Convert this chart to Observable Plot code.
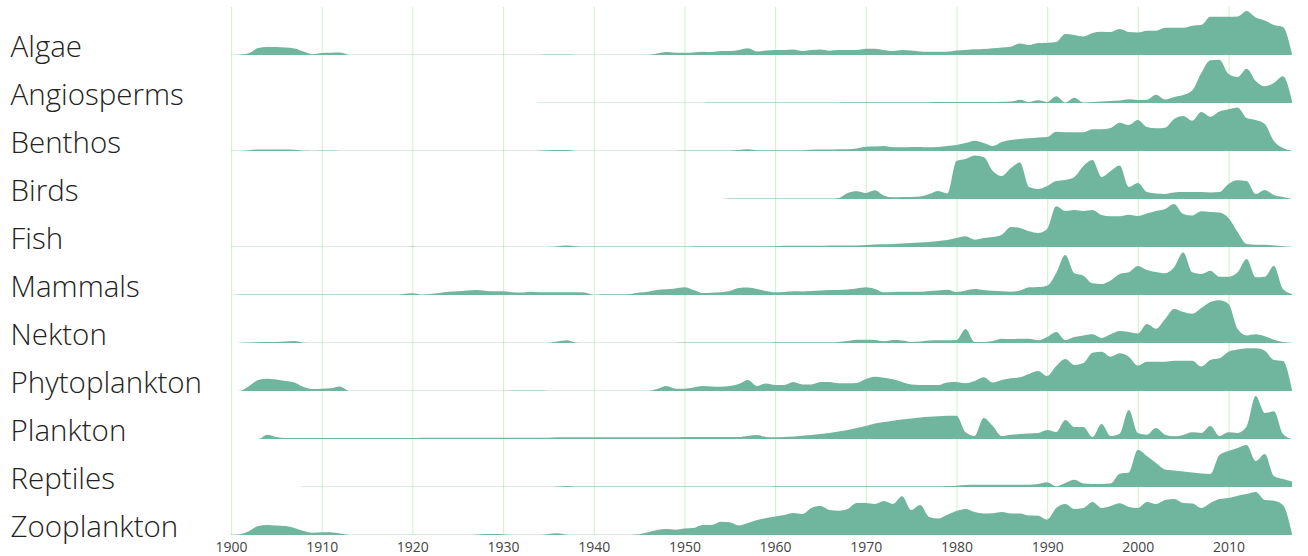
<!DOCTYPE html>
<html><head><meta charset="utf-8">
<script src="https://cdn.jsdelivr.net/npm/d3@7"></script>
<script src="https://cdn.jsdelivr.net/npm/@observablehq/plot@0.6"></script>
<style>body{margin:0;background:#fff}</style>
</head><body><div id="chart"></div>
<script>
const years = d3.range(1900, 2018);
const categories = ["Algae","Angiosperms","Benthos","Birds","Fish","Mammals","Nekton","Phytoplankton","Plankton","Reptiles","Zooplankton"];
const xTicks = [1900,1910,1920,1930,1940,1950,1960,1970,1980,1990,2000,2010];

const algae = [
0.3,0.5,2,7,8,8,7.5,6.5,3.5,0.8,
2,2.3,2.5,0.3,0.3,0.3,0.3,0.3,0.3,0.3,
0.3,0.3,0.3,0.3,0.3,0.3,0.3,0.3,0.3,0.3,
0.3,0.3,0.3,0.3,0.3,0.4,0.6,0.4,0.3,0.3,
0.3,0.3,0.3,0.3,0.3,0.3,0.3,1.5,3,2.3,
2.3,2.5,3.3,3,4,4,5,6.7,3.5,4.5,
5,5,5.5,4,5,5.5,4.3,5,5,5,
6.3,6.3,5,4,5,4.5,3.5,3.3,3.3,3.3,
4.5,5,5.7,6,6.7,7.5,8.3,11.5,10,12,
12.3,13,21,20,18.5,22,23.3,23,26,23,
22.5,24.3,24.3,27.3,27.3,27.3,29.3,30,38.3,38.3,
38.3,38.5,44,37.5,34.5,30,28,1];
const angiosperms = [
null,null,null,null,null,null,null,null,null,null,
null,null,null,null,null,null,null,null,null,null,
null,null,null,null,null,null,null,null,null,null,
null,null,null,null,0.3,0.3,0.3,0.3,0.3,0.3,
0.3,0.3,0.3,0.3,0.3,0.3,0.3,0.3,0.3,0.3,
0.3,0.3,0.3,0.4,0.4,0.4,0.5,0.5,0.5,0.5,
0.5,0.5,0.5,0.5,0.6,0.6,0.6,0.6,0.7,0.7,
0.7,0.7,0.8,0.8,0.8,0.8,0.8,0.8,1,1,
1,1,1,1,1,1.2,1.5,3.3,1,2.7,
1,6.7,0.5,5.3,0.5,1,1.5,2,2.5,3.7,
3,3.3,8.3,3.5,6,8,12.5,30,42.7,43.3,
29,26,34.3,22,16.7,20,26.7,2];
const benthos = [
0.3,0.3,0.8,1.5,1.5,1.5,1.5,1.2,0.4,0.3,
0.5,0.4,0.3,0.3,0.3,0.3,0.3,0.3,0.3,0.3,
0.3,0.3,0.3,0.3,0.3,0.3,0.3,0.3,0.3,0.3,
0.3,0.3,0.3,0.3,0.6,0.8,1,1,0.3,0.3,
0.3,0.3,0.3,0.3,0.3,0.3,0.3,0.3,0.3,0.3,
0.4,0.4,0.4,0.4,0.5,0.5,1,1.7,0.8,0.8,
0.8,0.8,0.8,0.8,1.2,1.5,1.5,1.8,1.8,2.5,
4.3,4.5,5,3.7,3.7,4,4,3.7,4,5,
6,8,10.3,8,5,9,11,12,12.7,13.5,
14,19.3,18.7,18.7,18.7,21.7,21.7,23,28.3,26,
31,24,22.7,23.3,32,35,30.3,39,34.3,39.5,
41.7,43.5,33,31,27,10,3,0.5];
const birds = [
null,null,null,null,null,null,null,null,null,null,
null,null,null,null,null,null,null,null,null,null,
null,null,null,null,null,null,null,null,null,null,
null,null,null,null,null,null,null,null,null,null,
null,null,null,null,null,null,null,null,null,null,
null,null,null,null,null,0.4,0.4,0.4,0.4,0.4,
0.4,0.4,0.4,0.4,0.4,0.4,0.4,1,6,7.7,
6,8.7,3.3,1.7,2,2,2.5,5,8,5.5,
38,40,43.5,42,28,23,31,36.5,12,10,
13,18,19,22,33,39,22,28,33.5,12,
16,7,5.5,5,6.5,7,7,7,6.5,7,
15,18.7,18,5,9,4,2,null];
const fish = [
0.3,0.3,0.3,0.3,0.3,0.3,0.3,0.3,0.3,0.3,
0.3,0.3,0.3,0.3,0.3,0.3,0.3,0.3,0.3,0.3,
0.6,0.3,0.3,0.3,0.3,0.3,0.3,0.3,0.3,0.3,
0.3,0.3,0.3,0.3,0.3,0.3,0.8,1.5,0.8,0.4,
0.4,0.4,0.4,0.4,0.4,0.4,0.4,0.4,0.4,0.4,
0.4,0.8,0.8,0.8,0.8,0.8,0.8,0.8,0.8,0.8,
0.8,1.2,1.2,1.2,1.2,1.2,1.5,1.5,1.5,1.5,
2,2.5,2.7,3,3.5,4,4.5,5,6,7,
9,10.7,7.3,9,10,12.3,20,19,15.7,14,
18,40.7,36,37,36,37,32,30.7,30.7,32.3,
31,33.5,36,38,43,33,31.5,35.7,35,34.5,
29,15,3,2.3,2.3,1.5,0.8,0.3];
const mammals = [
null,0.4,0.4,0.4,0.4,0.4,0.4,0.4,0.4,0.4,
0.4,0.4,0.4,0.4,0.4,0.4,0.4,0.4,0.4,1,
1.7,0.6,1,2,3.3,3.7,4.5,5,4.3,3.7,
3.7,2.7,2.5,3.3,2.8,2.7,2.7,2.7,2.7,2.5,
0.3,0.7,0.7,0.8,1,2.5,3.3,5,5.7,6.5,
7.7,5,2,2.3,2.7,4,7,7.5,6,4,
2.7,3,3.7,3.5,4,4.5,5,5,5.5,6.5,
7.7,6,2.7,3,3.3,3.3,3.3,4,4.5,5.3,
3,4.5,6,5,4.3,3.8,3.3,4.5,7.7,8,
9.3,22,40,21.7,19.3,11.7,11,14.5,21,22.7,
29,25,23,21.7,27.7,42.5,22.7,21,24.3,18.3,
18.3,22.7,36,17.7,18.3,29,6,1];
const nekton = [
null,0.3,0.5,0.8,1,1,1.5,2,0.5,0.3,
0.3,0.3,0.3,0.3,0.3,0.3,0.3,0.3,0.3,0.3,
0.3,0.3,0.3,0.3,0.3,0.3,0.3,0.3,0.3,0.3,
0.3,0.3,0.3,0.3,0.3,0.3,1.5,2.7,0.5,0.3,
0.3,0.3,0.3,0.3,0.3,0.3,0.3,0.3,0.3,0.3,
0.5,0.5,0.5,0.5,0.5,0.5,0.5,0.5,0.5,0.5,
0.8,0.8,0.8,0.8,0.8,0.8,0.8,1,2,3.3,
3.3,3,1.7,3,2.5,1,1.5,2.5,2.7,2.7,
3,14,1,1,2,4.3,4,4.3,4.3,2.7,
6,11,3,6,7.5,8.7,5,8.7,12,11,
9.5,19,14.3,24,34,31,29.3,35,41,42.7,
39,14,7.5,8.7,6.7,3.3,1,0.3];
const phytoplankton = [
null,0.3,5,11,12.3,11.5,10,8.5,4,2,
2.3,2.7,4.5,0.3,0.3,0.3,0.3,0.3,0.3,0.3,
0.3,0.3,0.3,0.3,0.3,0.3,0.3,0.3,0.3,0.3,
0.3,0.4,0.5,0.5,0.4,0.3,0.3,0.3,0.3,0.3,
0.3,0.3,0.3,0.3,0.3,0.3,0.3,2,5,2.3,
2.3,3.5,5,4.5,4.3,5,7,11,5,7.5,
6,6,9,6.5,6.5,9,9,7.7,7.7,8,
12,14.3,13.3,11.7,9,6.5,6,6,6,8.5,
9,7.7,10,13.7,8.5,11,12.7,13.7,17,20,
15,25,32,26,28,38.3,39.3,34.3,37.7,34.3,
25.5,29.3,29.3,29.3,30.3,30.3,30.3,24.5,31,32.7,
39.3,41.5,42.7,42.7,40.3,31,30,1];
const plankton = [
null,null,null,null,4.3,2,1,1,1,1,
1,1,1,1,1,1,1,1,1,1,
1,1.3,1.3,1.3,1.3,1.3,1.3,1.3,1.3,1.3,
1.3,1.3,1.3,1.3,1.3,1.3,1.7,1.7,1.7,1.7,
1.7,1.7,1.7,1.7,1.7,1.7,1.7,1.7,1.7,1.7,
2,2,2,2,2,2,2,3,4,2,
1.7,2,2.5,3.3,4,5,6,7.5,9,11,
13,15.5,17,18.3,19.5,20.5,21.5,22.3,22.8,23.2,
23.3,6.7,3,21,13,3,4.3,5,5.5,6,
9,7,19,12,12,2,15,3,5.3,29,
6,4.3,11,4.3,2.7,4,6.7,6,13,3,
6.7,6,12.7,43,26,27.7,5,null];
const reptiles = [
null,null,null,null,null,null,null,null,0.3,0.3,
0.3,0.3,0.3,0.3,0.3,0.3,0.3,0.3,0.3,0.3,
0.3,0.3,0.3,0.3,0.3,0.3,0.3,0.3,0.3,0.3,
0.3,0.3,0.3,0.3,0.3,0.3,0.6,1,0.5,0.4,
0.4,0.4,0.4,0.4,0.4,0.4,0.4,0.4,0.4,0.4,
0.4,0.4,0.4,0.4,0.4,0.4,0.4,0.4,0.4,0.4,
0.7,0.7,0.7,0.7,0.7,0.7,0.7,0.7,0.7,0.7,
0.7,0.7,0.7,0.7,0.7,0.7,0.7,0.7,0.7,1,
1.3,2,2.3,2.3,2.3,2.3,2.3,2.3,2.3,3,
4.7,0.7,4,7.3,3.5,3,3,3.5,13.3,14.5,
37.3,31,24,17.5,16.5,15.5,14.5,13.5,13,32,
36,39,42,26,33,11,8,5.5];
const zooplankton = [
0.3,0.8,4,9,10,9.5,9,7,4,2.3,
2.7,2.7,1.5,0.3,0.3,0.3,0.3,0.3,0.3,0.3,
0.3,0.3,0.3,0.3,0.3,0.3,0.3,0.6,1,1,
0.8,0.3,0.3,0.3,0.3,1,1.7,0.5,0.3,0.3,
0.3,0.3,0.3,0.3,0.3,0.8,2.7,5,6,5.3,
6.5,7,10,10,13.3,12.7,9.5,12,15,17,
18.5,20,22,21,27,29,25,24.3,26,32,
32,31,34,31,38.7,25,30,18,16.5,20.3,
24,26,23,21.5,21.7,23,21.5,21.5,19.5,19.3,
15.5,27,31,26,27,33,27,29,31.7,28,
27,33,31,35,36,32,31.5,27,32,36,
37,39.3,41,43,35,34.3,30,1];

const seriesByCategory = {
  Algae: algae, Angiosperms: angiosperms, Benthos: benthos, Birds: birds, Fish: fish,
  Mammals: mammals, Nekton: nekton, Phytoplankton: phytoplankton, Plankton: plankton,
  Reptiles: reptiles, Zooplankton: zooplankton
};
const rows = [];
for (const c of categories) {
  seriesByCategory[c].forEach((v, i) => rows.push({category: c, year: years[i], value: v}));
}

const chart = Plot.plot({
  width: 1308,
  height: 556,
  marginLeft: 231,
  marginRight: 16,
  marginTop: 7,
  marginBottom: 21,
  style: {fontFamily: "'Open Sans', sans-serif", background: "#fff"},
  x: {domain: [1900, 2017], axis: null, label: null},
  y: {domain: [0, 45], range: [55, 10], axis: null},
  fy: {domain: categories, padding: 0, axis: null},
  marks: [
    Plot.ruleX(xTicks, {stroke: "#d6f2d6", strokeWidth: 1.2}),
    Plot.areaY(rows, {x: "year", y: "value", fy: "category", fill: "#70b59e", curve: "monotone-x"}),
    Plot.text(categories, {fy: d => d, text: d => d, frameAnchor: "bottom-left", textAnchor: "start", lineAnchor: "bottom", dx: -221, dy: 1.5, fontSize: 29.5, fontWeight: 300, fill: "#222"}),
    Plot.axisX(xTicks, {anchor: "bottom", label: null, tickSize: 0, tickPadding: 7, tickFormat: "d", fontSize: 14, color: "#444"})
  ]
});
document.getElementById("chart").appendChild(chart);
</script>
</body></html>
